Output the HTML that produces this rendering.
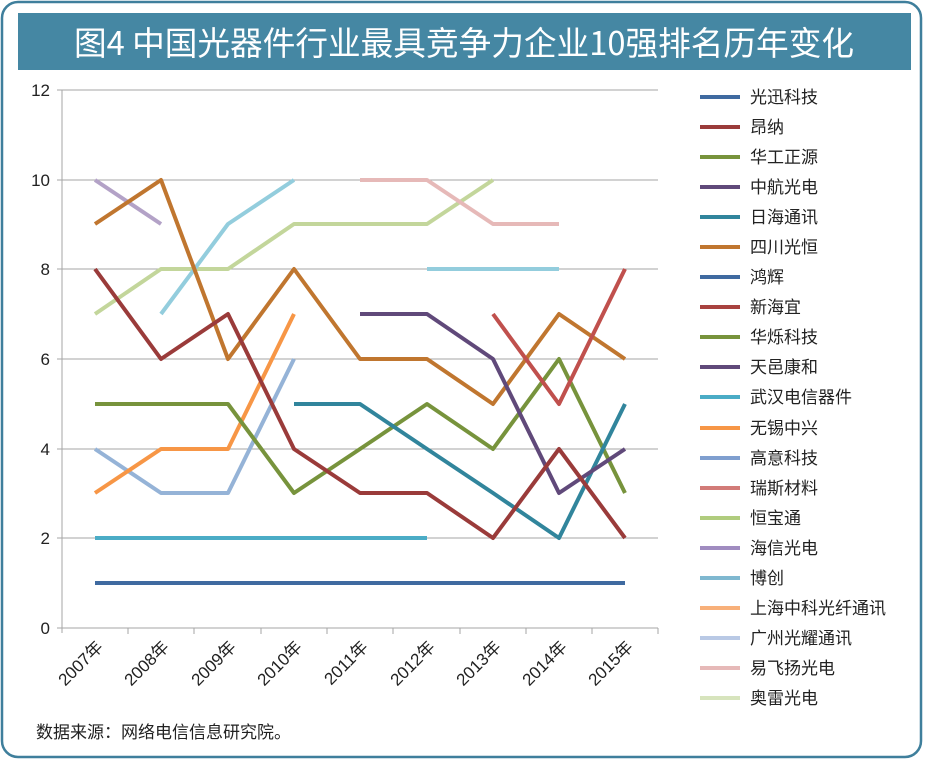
<!DOCTYPE html>
<html><head><meta charset="utf-8"><style>
body{margin:0;background:#fff;}
svg{display:block;font-family:"Liberation Sans","Noto Sans CJK SC",sans-serif;}
</style></head><body>
<svg width="925" height="761" viewBox="0 0 925 761" xmlns="http://www.w3.org/2000/svg">
<rect x="2" y="2" width="919" height="755" rx="16" fill="#fff" stroke="#3f7f9c" stroke-width="2.5"/>
<rect x="18" y="13" width="893" height="57" fill="#4587a3"/>
<text x="464" y="55" fill="#fff" font-size="33" text-anchor="middle" font-family="'WenQuanYi Zen Hei','Noto Sans CJK SC',sans-serif" textLength="780" lengthAdjust="spacingAndGlyphs">图4 中国光器件行业最具竞争力企业10强排名历年变化</text>
<g stroke="#a6a6a6" stroke-width="1">
<line x1="62" y1="90" x2="658" y2="90"/><line x1="62" y1="180" x2="658" y2="180"/><line x1="62" y1="269" x2="658" y2="269"/><line x1="62" y1="359" x2="658" y2="359"/><line x1="62" y1="449" x2="658" y2="449"/><line x1="62" y1="538" x2="658" y2="538"/><line x1="62" y1="628" x2="658" y2="628"/>
<line x1="62" y1="90" x2="62" y2="633"/>
<line x1="57" y1="90" x2="62" y2="90"/><line x1="57" y1="180" x2="62" y2="180"/><line x1="57" y1="269" x2="62" y2="269"/><line x1="57" y1="359" x2="62" y2="359"/><line x1="57" y1="449" x2="62" y2="449"/><line x1="57" y1="538" x2="62" y2="538"/><line x1="57" y1="628" x2="62" y2="628"/>
<line x1="128" y1="628" x2="128" y2="634"/><line x1="194" y1="628" x2="194" y2="634"/><line x1="261" y1="628" x2="261" y2="634"/><line x1="327" y1="628" x2="327" y2="634"/><line x1="393" y1="628" x2="393" y2="634"/><line x1="460" y1="628" x2="460" y2="634"/><line x1="526" y1="628" x2="526" y2="634"/><line x1="592" y1="628" x2="592" y2="634"/><line x1="658" y1="628" x2="658" y2="634"/>
</g>
<g font-size="17" fill="#222" text-anchor="end">
<text x="50" y="96">12</text><text x="50" y="186">10</text><text x="50" y="275">8</text><text x="50" y="365">6</text><text x="50" y="455">4</text><text x="50" y="544">2</text><text x="50" y="634">0</text>
</g>
<g font-size="17" fill="#222" text-anchor="end">
<text transform="translate(104,648) rotate(-45)">2007年</text>
<text transform="translate(170,648) rotate(-45)">2008年</text>
<text transform="translate(237,648) rotate(-45)">2009年</text>
<text transform="translate(303,648) rotate(-45)">2010年</text>
<text transform="translate(369,648) rotate(-45)">2011年</text>
<text transform="translate(436,648) rotate(-45)">2012年</text>
<text transform="translate(502,648) rotate(-45)">2013年</text>
<text transform="translate(568,648) rotate(-45)">2014年</text>
<text transform="translate(634,648) rotate(-45)">2015年</text>
</g>
<g fill="none" stroke-width="4" stroke-linejoin="round">
<polyline stroke="#3f6aa0" points="95,583 625,583"/>
<polyline stroke="#4bacc6" points="95,538 427,538"/>
<polyline stroke="#c3d69b" points="95,314 161,269 228,269 294,224 360,224 427,224 493,180"/>
<polyline stroke="#93cddd" points="161,314 228,224 294,180"/>
<polyline stroke="#93cddd" points="427,269 559,269"/>
<polyline stroke="#e6b9b8" points="360,180 427,180 493,224 559,224"/>
<polyline stroke="#b3a2c7" points="95,180 161,224"/>
<polyline stroke="#95b3d7" points="95,449 161,493 228,493 294,359"/>
<polyline stroke="#f79646" points="95,493 161,449 228,449 294,314"/>
<polyline stroke="#c0762f" points="95,224 161,180 228,359 294,269 360,359 427,359 493,404 559,314 625,359"/>
<polyline stroke="#77933c" points="95,404 161,404 228,404 294,493 360,449 427,404 493,449 559,359 625,493"/>
<polyline stroke="#31859c" points="294,404 360,404 427,449 493,493 559,538 625,404"/>
<polyline stroke="#60497a" points="360,314 427,314 493,359 559,493 625,449"/>
<polyline stroke="#9a3b3a" points="95,269 161,359 228,314 294,449 360,493 427,493 493,538 559,449 625,538"/>
<polyline stroke="#c0504d" points="493,314 559,404 625,269"/>
</g>
<g font-size="17" fill="#222" stroke-width="4">
<line x1="700" y1="97" x2="740" y2="97" stroke="#3f6aa0"/><text x="750" y="103">光迅科技</text>
<line x1="700" y1="127" x2="740" y2="127" stroke="#9a3b3a"/><text x="750" y="133">昂纳</text>
<line x1="700" y1="157" x2="740" y2="157" stroke="#77933c"/><text x="750" y="163">华工正源</text>
<line x1="700" y1="187" x2="740" y2="187" stroke="#60497a"/><text x="750" y="193">中航光电</text>
<line x1="700" y1="217" x2="740" y2="217" stroke="#31859c"/><text x="750" y="223">日海通讯</text>
<line x1="700" y1="247" x2="740" y2="247" stroke="#c0762f"/><text x="750" y="253">四川光恒</text>
<line x1="700" y1="277" x2="740" y2="277" stroke="#3f6aa0"/><text x="750" y="283">鸿辉</text>
<line x1="700" y1="307" x2="740" y2="307" stroke="#a8423f"/><text x="750" y="313">新海宜</text>
<line x1="700" y1="337" x2="740" y2="337" stroke="#77933c"/><text x="750" y="343">华烁科技</text>
<line x1="700" y1="367" x2="740" y2="367" stroke="#60497a"/><text x="750" y="373">天邑康和</text>
<line x1="700" y1="397" x2="740" y2="397" stroke="#4bacc6"/><text x="750" y="403">武汉电信器件</text>
<line x1="700" y1="428" x2="740" y2="428" stroke="#f79646"/><text x="750" y="434">无锡中兴</text>
<line x1="700" y1="458" x2="740" y2="458" stroke="#7f9fcf"/><text x="750" y="464">高意科技</text>
<line x1="700" y1="488" x2="740" y2="488" stroke="#d27b78"/><text x="750" y="494">瑞斯材料</text>
<line x1="700" y1="518" x2="740" y2="518" stroke="#b0cc7e"/><text x="750" y="524">恒宝通</text>
<line x1="700" y1="548" x2="740" y2="548" stroke="#a08cc0"/><text x="750" y="554">海信光电</text>
<line x1="700" y1="578" x2="740" y2="578" stroke="#7fb8d0"/><text x="750" y="584">博创</text>
<line x1="700" y1="608" x2="740" y2="608" stroke="#f8b07a"/><text x="750" y="614">上海中科光纤通讯</text>
<line x1="700" y1="638" x2="740" y2="638" stroke="#b9c9e5"/><text x="750" y="644">广州光耀通讯</text>
<line x1="700" y1="668" x2="740" y2="668" stroke="#e6b9b8"/><text x="750" y="674">易飞扬光电</text>
<line x1="700" y1="698" x2="740" y2="698" stroke="#d7e4bd"/><text x="750" y="704">奥雷光电</text>
</g>
<text x="36" y="738" font-size="17" fill="#222">数据来源：网络电信信息研究院。</text>
</svg>
</body></html>
